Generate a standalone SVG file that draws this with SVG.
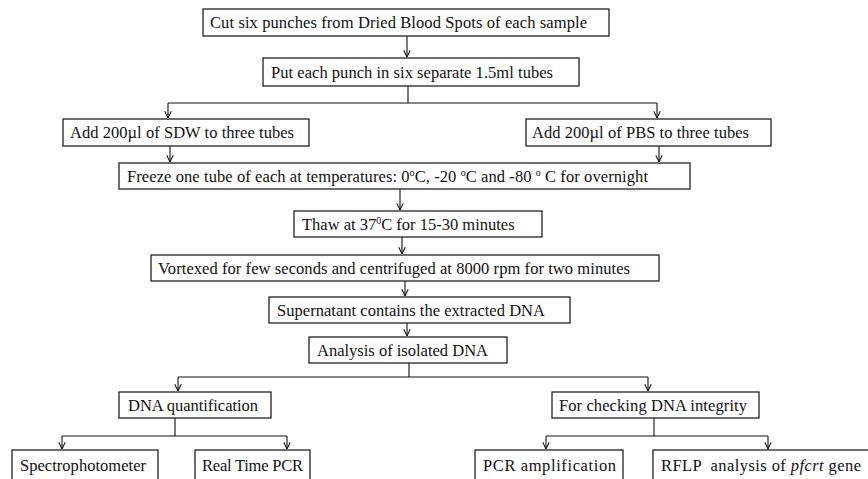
<svg xmlns="http://www.w3.org/2000/svg" width="868" height="479" viewBox="0 0 868 479">
<defs>
<marker id="arr" viewBox="0 0 10 10" refX="9.5" refY="5" markerWidth="8" markerHeight="8" markerUnits="userSpaceOnUse" orient="auto">
<path d="M1,1 L9.5,5 L1,9" fill="none" stroke="#111" stroke-width="1.3"/>
</marker>
<style>
.box{fill:#fff;stroke:#222;stroke-width:1.3}
text{font-family:'Liberation Serif','Times New Roman',Tinos,'DejaVu Serif',serif;font-size:16.5px;fill:#111;white-space:pre}
.c{fill:none;stroke:#111;stroke-width:1.1}
.sup{font-size:10px}
</style>
</defs>
<rect width="868" height="479" fill="#fff"/>
<g id="connectors">
<path class="c" d="M407,36 V57" marker-end="url(#arr)"/>
<path class="c" d="M408,86 V103 M168,103 H657"/>
<path class="c" d="M168,103 V118" marker-end="url(#arr)"/>
<path class="c" d="M657,103 V118" marker-end="url(#arr)"/>
<path class="c" d="M170,146 V162" marker-end="url(#arr)"/>
<path class="c" d="M659,146 V162" marker-end="url(#arr)"/>
<path class="c" d="M400,189 V210" marker-end="url(#arr)"/>
<path class="c" d="M402,237 V254" marker-end="url(#arr)"/>
<path class="c" d="M405,281 V296" marker-end="url(#arr)"/>
<path class="c" d="M407,323 V336" marker-end="url(#arr)"/>
<path class="c" d="M409,363 V377 M178,377 H648"/>
<path class="c" d="M178,377 V391" marker-end="url(#arr)"/>
<path class="c" d="M648,377 V391" marker-end="url(#arr)"/>
<path class="c" d="M175,418 V436 M62,436 H287"/>
<path class="c" d="M62,436 V449" marker-end="url(#arr)"/>
<path class="c" d="M287,436 V449" marker-end="url(#arr)"/>
<path class="c" d="M654,418 V436 M546,436 H768"/>
<path class="c" d="M546,436 V449" marker-end="url(#arr)"/>
<path class="c" d="M768,436 V449" marker-end="url(#arr)"/>
</g>
<g font-family="'Liberation Serif', 'Times New Roman', serif">
<g id="n1"><rect class="box" x="203" y="9" width="406" height="27"/><text x="210" y="28" textLength="377">Cut six punches from Dried Blood Spots of each sample</text></g>
<g id="n2"><rect class="box" x="263" y="58" width="316" height="28"/><text x="271" y="78" textLength="282">Put each punch in six separate 1.5ml tubes</text></g>
<g id="n3"><rect class="box" x="63" y="119" width="246" height="27"/><text x="70" y="138" textLength="224">Add 200µl of SDW to three tubes</text></g>
<g id="n4"><rect class="box" x="526" y="119" width="245" height="27"/><text x="532" y="138" textLength="217">Add 200µl of PBS to three tubes</text></g>
<g id="n5"><rect class="box" x="119" y="163" width="571" height="26"/><text x="127" y="182" textLength="521">Freeze one tube of each at temperatures: 0<tspan class="sup" dy="-6">o</tspan><tspan dy="6">C, -20 </tspan><tspan class="sup" dy="-6">o</tspan><tspan dy="6">C and -80 </tspan><tspan class="sup" dy="-6">o</tspan><tspan dy="6"> C for overnight</tspan></text></g>
<g id="n6"><rect class="box" x="294" y="211" width="248" height="26"/><text x="302" y="230">Thaw at 37<tspan class="sup" dy="-6">0</tspan><tspan dy="6">C for 15-30 minutes</tspan></text></g>
<g id="n7"><rect class="box" x="151" y="255" width="508" height="26"/><text x="158" y="274" textLength="472">Vortexed for few seconds and centrifuged at 8000 rpm for two minutes</text></g>
<g id="n8"><rect class="box" x="269" y="297" width="301" height="26"/><text x="277" y="316" textLength="268">Supernatant contains the extracted DNA</text></g>
<g id="n9"><rect class="box" x="309" y="337" width="198" height="26"/><text x="317" y="356" textLength="171">Analysis of isolated DNA</text></g>
<g id="n10"><rect class="box" x="119" y="392" width="152" height="26"/><text x="128" y="411" textLength="130">DNA quantification</text></g>
<g id="n11"><rect class="box" x="552" y="392" width="207" height="26"/><text x="559" y="411" textLength="188">For checking DNA integrity</text></g>
<g id="n12"><rect class="box" x="12" y="450" width="146" height="32"/><text x="20" y="471" textLength="126">Spectrophotometer</text></g>
<g id="n13"><rect class="box" x="195" y="450" width="115" height="32"/><text x="202" y="471" textLength="101">Real Time PCR</text></g>
<g id="n14"><rect class="box" x="475" y="450" width="148" height="32"/><text x="483" y="471" textLength="133">PCR amplification</text></g>
<g id="n15"><rect class="box" x="653" y="450" width="216" height="32"/><text x="661" y="471" textLength="200">RFLP  analysis of <tspan font-style="italic">pfcrt</tspan> gene</text></g>
</g>
</svg>
